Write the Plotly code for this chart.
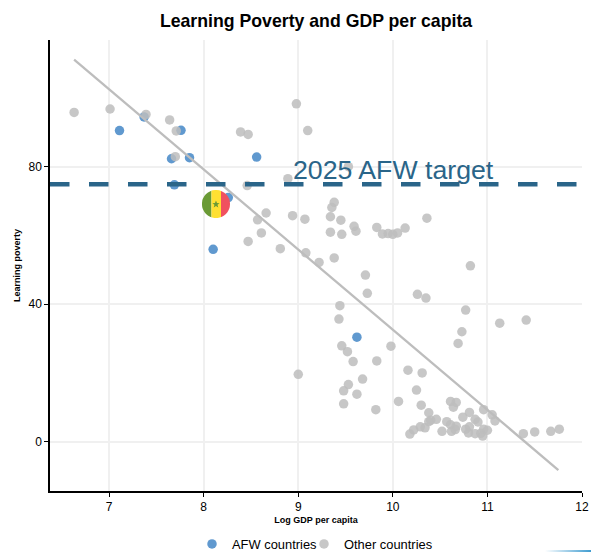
import base64
import plotly.graph_objects as go

# AFW countries
afw_x = [7.11, 7.37, 7.76, 7.66, 7.85, 8.56, 7.69, 8.26, 8.10, 9.62]
afw_y = [90.6, 94.6, 90.7, 82.4, 82.7, 82.9, 74.8, 71.1, 56.0, 30.4]

# Other countries
other_x = [6.63, 7.01, 7.39, 7.64, 7.71, 7.70, 8.39, 8.47, 8.98, 9.10, 8.89, 8.46,
           8.66, 8.57, 8.94, 9.07, 8.61, 8.47, 8.81, 9.08, 9.22, 9.53, 9.38, 9.355,
           9.34, 9.45, 9.59, 9.61, 9.34, 9.46, 9.83, 9.89, 9.95, 10.0, 10.05, 10.13,
           10.36, 10.82, 9.38, 9.71, 9.73, 9.44, 9.43, 10.26, 10.35, 9.46, 9.52, 9.98,
           9.58, 9.83, 9.0, 10.16, 10.31, 9.68, 9.53, 9.48, 9.62, 9.48, 9.82, 10.06,
           10.25, 10.30, 10.38, 10.38, 10.29, 10.34, 10.22, 10.18, 10.69, 10.73, 10.77,
           10.46, 10.40, 10.61, 10.67, 10.64, 10.52, 10.57, 10.61, 10.67, 10.62, 10.66,
           10.74, 10.81, 10.87, 10.90, 10.77, 10.81, 10.80, 10.87, 10.93, 10.96, 10.95,
           11.0, 10.96, 11.05, 11.08, 11.38, 11.50, 11.67, 11.76, 11.13, 11.41]
other_y = [95.9, 96.9, 95.3, 93.7, 90.5, 83.0, 90.2, 89.5, 98.4, 90.6, 76.6, 74.6,
           66.6, 64.6, 65.8, 64.8, 60.8, 58.3, 56.2, 55.0, 52.2, 80.1, 69.7, 68.2,
           65.5, 64.5, 62.7, 61.3, 61.0, 60.4, 62.4, 60.5, 60.6, 60.4, 60.8, 62.2,
           65.1, 51.2, 53.5, 48.5, 43.2, 39.6, 35.7, 42.9, 41.8, 27.9, 26.2, 27.8,
           23.3, 23.5, 19.6, 20.8, 20.0, 18.2, 16.6, 14.8, 13.8, 11.0, 9.3, 11.7,
           15.0, 10.6, 8.4, 5.8, 4.3, 4.0, 3.4, 2.2, 28.6, 32.0, 38.3,
           6.5, 6.2, 11.7, 11.4, 10.0, 3.0, 5.8, 4.9, 4.5, 3.0, 3.5,
           7.1, 8.5, 6.5, 5.7, 3.6, 4.3, 2.5, 2.3, 2.4, 3.6, 1.6,
           3.3, 9.3, 7.8, 6.0, 2.3, 2.8, 3.0, 3.6, 34.5, 35.4]

# fit line ends
fit_x = [6.63, 11.75]
fit_y = [111.3, -8.3]

target = 75
senegal_x = 8.13
senegal_y = 69.2

x_ticks = [7, 8, 9, 10, 11, 12]
y_ticks = [0, 40, 80]

BLUE = "#2a6589"


def svg_uri(svg):
    return "data:image/svg+xml;base64," + base64.b64encode(svg.encode()).decode()


# Senegal flag, round
flag_svg = """<svg xmlns="http://www.w3.org/2000/svg" viewBox="0 0 28 28">
<clipPath id="c"><circle cx="14" cy="14" r="14"/></clipPath>
<g clip-path="url(#c)">
<rect x="0" y="0" width="9.5" height="28" fill="#6a9a35"/>
<rect x="9.5" y="0" width="9.5" height="28" fill="#ffe032"/>
<rect x="19" y="0" width="9" height="28" fill="#f0515f"/>
<polygon points="14,10.5 15,13 17.6,13.1 15.5,14.8 16.3,17.3 14,15.9 11.7,17.3 12.5,14.8 10.4,13.1 13,13" fill="#6a9a35"/>
</g></svg>"""

# thin blue sliver in the bottom right corner of the original
corner_svg = """<svg xmlns="http://www.w3.org/2000/svg" viewBox="0 0 46 2" preserveAspectRatio="none">
<linearGradient id="g"><stop offset="0" stop-color="#3d9bd0" stop-opacity="0"/>
<stop offset="1" stop-color="#3d9bd0"/></linearGradient>
<rect width="46" height="2" fill="url(#g)"/></svg>"""

fig = go.Figure()

fig.add_trace(go.Scatter(x=afw_x, y=afw_y, mode="markers", name="AFW countries", legend="legend",
                         marker=dict(size=9.5, color="#5794cc", opacity=0.95)))
fig.add_trace(go.Scatter(x=other_x, y=other_y, mode="markers", name="Other countries", legend="legend2",
                         marker=dict(size=9.5, color="#bdbdbd", opacity=0.85)))
fig.add_trace(go.Scatter(x=fit_x, y=fit_y, mode="lines", showlegend=False,
                         line=dict(color="#bdbdbd", width=2.3)))

fig.add_hline(y=target, line=dict(color=BLUE, width=4.5, dash="19.5px,19.5px"), layer="above")

fig.add_annotation(x=8.92, y=target + 1.5, text="2025 AFW target", showarrow=False,
                   xanchor="left", yanchor="bottom", yshift=-8,
                   font=dict(size=26.7, color=BLUE, family="Liberation Sans"))

fig.add_layout_image(source=svg_uri(flag_svg), xref="x", yref="y", x=senegal_x, y=senegal_y,
                     sizex=0.297, sizey=8.2, xanchor="center", yanchor="middle",
                     sizing="stretch", layer="above")
fig.add_layout_image(source=svg_uri(corner_svg), xref="paper", yref="paper", x=1.0169, y=-0.1353,
                     sizex=46 / 532, sizey=2 / 451, xanchor="right", yanchor="bottom",
                     sizing="stretch", layer="above")

legend_style = dict(orientation="h", xref="container", yref="container", xanchor="left",
                    y=8 / 552, yanchor="middle", font=dict(size=12.9), itemwidth=30,
                    bgcolor="rgba(0,0,0,0)")

fig.update_layout(
    width=591, height=552,
    title=dict(text="<b>Learning Poverty and GDP per capita</b>", x=316 / 591, xanchor="center",
               y=0.962, yanchor="middle", font=dict(size=17.7, color="black")),
    font=dict(family="Liberation Sans", color="black"),
    plot_bgcolor="white", paper_bgcolor="white",
    margin=dict(l=50, r=9, t=40, b=61),
    legend=dict(x=192 / 591, **legend_style),
    legend2=dict(x=304 / 591, **legend_style),
)
fig.update_xaxes(range=[6.375, 12.0], tickvals=x_ticks, showgrid=True, gridcolor="#f0f0f0", gridwidth=1.5,
                 zeroline=False, showline=True, linecolor="black", linewidth=1.5, automargin=False,
                 ticks="outside", ticklen=4, tickcolor="black", tickfont=dict(size=12),
                 title=dict(text="<b>Log GDP per capita</b>", font=dict(size=9), standoff=4))
fig.update_yaxes(range=[-14.4, 117], tickvals=y_ticks, showgrid=True, gridcolor="#f0f0f0", gridwidth=1.5,
                 zeroline=False, showline=True, linecolor="black", linewidth=1.5, automargin=False,
                 ticks="outside", ticklen=4, tickcolor="black", tickfont=dict(size=12),
                 title=dict(text="<b>Learning poverty</b>", font=dict(size=9), standoff=6))

# page margin would shift the whole chart
fig.write_html("out.html", config=dict(displayModeBar=False),
               post_script="document.body.style.margin='0';")
